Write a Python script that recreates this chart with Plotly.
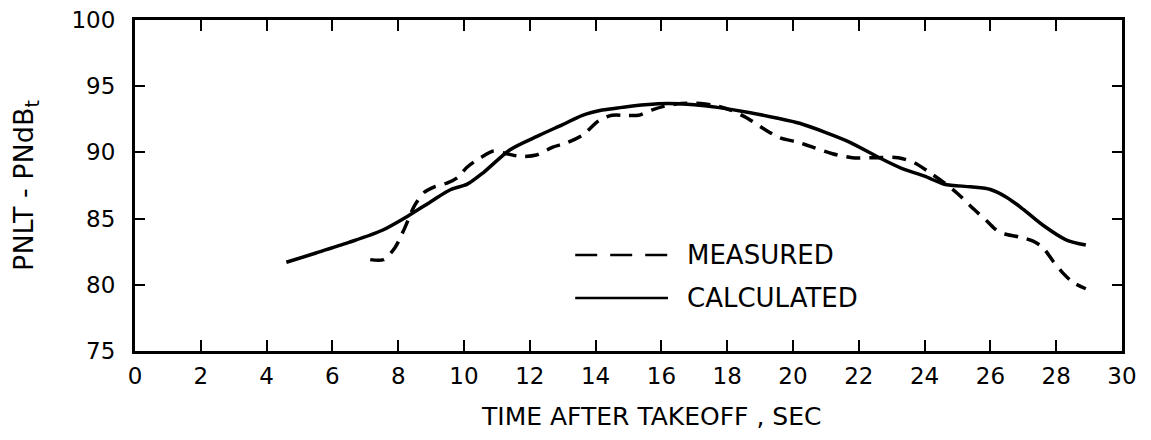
import plotly.graph_objects as go

# Calculated (solid) curve
calc_t = [4.6, 5.5, 6.5, 7.5, 8.3, 9.0, 9.6, 10.1, 10.6, 11.4, 12.3, 13.0, 13.6, 14.2, 14.8,
          15.5, 16.2, 17.0, 17.7, 18.7, 19.5, 20.2, 21.0, 21.7, 22.7, 23.3, 24.0, 24.6, 25.4,
          26.0, 26.5, 27.0, 27.6, 28.3, 28.9]
calc_y = [81.7, 82.4, 83.2, 84.1, 85.2, 86.3, 87.2, 87.6, 88.5, 90.2, 91.3, 92.1, 92.8, 93.2, 93.4,
          93.6, 93.7, 93.6, 93.4, 93.0, 92.6, 92.2, 91.5, 90.8, 89.5, 88.8, 88.2, 87.6, 87.4,
          87.2, 86.6, 85.7, 84.5, 83.4, 83.0]

# Measured (dashed) curve
meas_t = [7.15, 7.55, 7.9, 8.2, 8.5, 8.8, 9.1, 9.5, 9.8, 10.1, 10.5, 10.9, 11.3, 11.7, 12.2, 12.7,
          13.1, 13.6, 14.1, 14.5, 14.9, 15.3, 15.7, 16.1, 16.6, 17.2, 17.7, 18.1, 18.6, 19.1, 19.6,
          20.1, 20.6, 21.2, 21.8, 22.5, 23.2, 23.7, 24.2, 24.6, 25.0, 25.5, 25.9, 26.2, 26.5, 26.9,
          27.3, 27.6, 27.9, 28.2, 28.5, 28.9]
meas_y = [81.9, 81.9, 82.8, 84.3, 86.0, 87.0, 87.4, 87.7, 88.1, 88.9, 89.6, 90.1, 89.9, 89.7, 89.8, 90.4,
          90.7, 91.3, 92.4, 92.8, 92.8, 92.8, 93.2, 93.5, 93.7, 93.7, 93.5, 93.2, 92.6, 91.8, 91.1,
          90.8, 90.4, 89.9, 89.6, 89.6, 89.6, 89.2, 88.4, 87.7, 86.9, 85.7, 84.8, 84.1, 83.8, 83.6,
          83.3, 82.8, 81.8, 80.9, 80.2, 79.7]

x_ticks = list(range(0, 31, 2))
y_ticks = [75, 80, 85, 90, 95, 100]

FONT = "DejaVu Sans"

fig = go.Figure()
fig.add_trace(go.Scatter(x=meas_t, y=meas_y, mode="lines", name="MEASURED",
                         line=dict(color="black", width=3.5, dash="14px,9px", shape="spline", smoothing=0.8)))
fig.add_trace(go.Scatter(x=calc_t, y=calc_y, mode="lines", name="CALCULATED",
                         line=dict(color="black", width=3.5, shape="spline", smoothing=0.8)))

# Legend drawn manually (paper coordinates)
fig.add_shape(type="line", xref="paper", yref="paper", x0=0.446, x1=0.540, y0=0.290, y1=0.290,
              line=dict(color="black", width=2.5, dash="22px,13px"))
fig.add_shape(type="line", xref="paper", yref="paper", x0=0.446, x1=0.540, y0=0.160, y1=0.160,
              line=dict(color="black", width=2.5))
fig.add_annotation(xref="paper", yref="paper", x=0.557, y=0.290, text="MEASURED", showarrow=False,
                   xanchor="left", yanchor="middle", font=dict(family=FONT, size=26, color="black"))
fig.add_annotation(xref="paper", yref="paper", x=0.557, y=0.160, text="CALCULATED", showarrow=False,
                   xanchor="left", yanchor="middle", font=dict(family=FONT, size=26, color="black"))

# X-axis title as annotation (slightly right of centre, as in the original)
fig.add_annotation(xref="paper", yref="paper", x=0.523, y=-0.197, text="TIME AFTER TAKEOFF , SEC",
                   showarrow=False, xanchor="center", yanchor="middle",
                   font=dict(family=FONT, size=25, color="black"))

axis_common = dict(showgrid=False, zeroline=False, showline=True, linecolor="black", linewidth=3,
                   mirror="ticks", ticks="inside", tickcolor="black", tickwidth=2, automargin=False,
                   ticklabeloverflow="allow", tickfont=dict(family=FONT, size=23, color="black"))

fig.update_xaxes(range=[0, 30], tickvals=x_ticks, ticklen=11, ticklabelstandoff=2, **axis_common)
fig.update_yaxes(range=[75, 100], tickvals=y_ticks, ticklen=10, ticklabelstandoff=12,
                 title=dict(text="PNLT - PNdB<sub>t</sub>", font=dict(family=FONT, size=27, color="black"),
                            standoff=46),
                 **axis_common)

# Page body has an 8px default margin; compensate so the plot area lands where the original's does
fig.update_layout(width=1135, height=424, margin=dict(l=127, r=21, t=12, b=81),
                  paper_bgcolor="white", plot_bgcolor="white", showlegend=False)

fig.write_html("out.html")
